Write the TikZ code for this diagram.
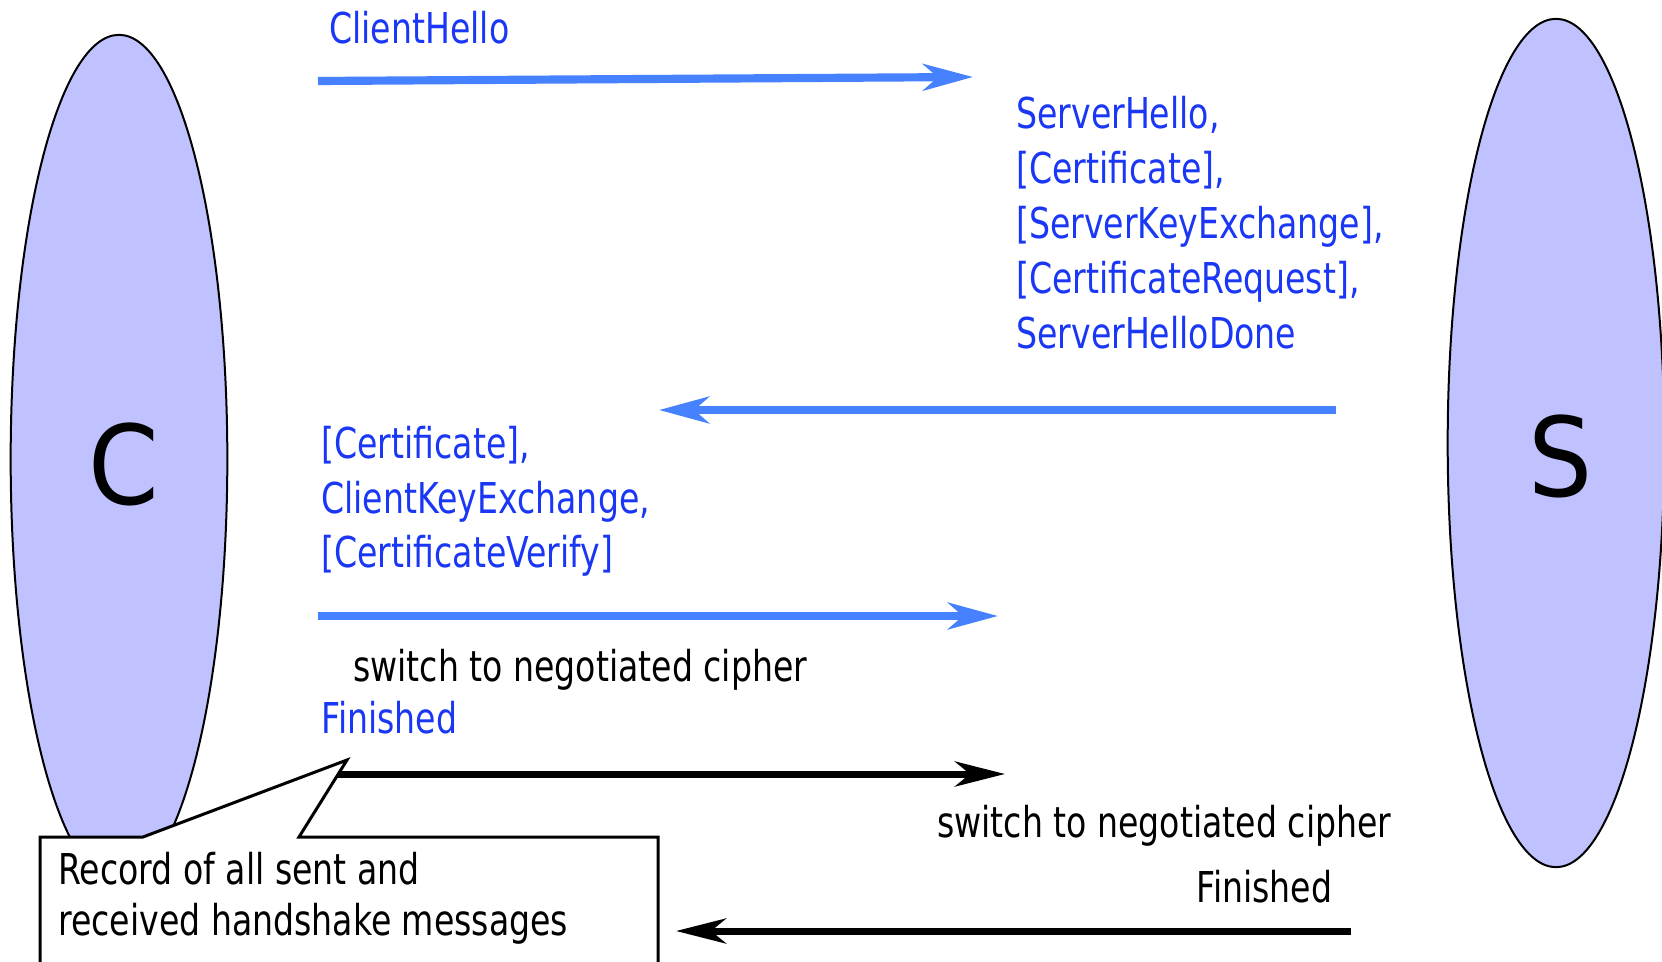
\documentclass[tikz,border=0pt]{standalone}
\usepackage{fontspec}
\setmainfont{DejaVu Sans}[FakeStretch=0.78]
\newfontfamily\bigfont{DejaVu Sans}[FakeStretch=0.92]
\usetikzlibrary{shapes.geometric,arrows.meta}
\definecolor{txtblue}{RGB}{25,55,245}
\definecolor{arrblue}{RGB}{70,130,255}
\definecolor{partyfill}{RGB}{192,194,255}
\tikzset{
  party/.style={ellipse, draw=black, line width=1.2pt, fill=partyfill, inner sep=0pt,
    minimum width=130pt, minimum height=509pt},
  partyname/.style={inner sep=0pt, font=\bigfont\fontsize{66}{66}\selectfont},
  lbl/.style={anchor=base west, inner sep=0pt, font=\fontsize{25.5}{25.5}\selectfont},
  bluelbl/.style={lbl, text=txtblue},
  bluemsg/.style={draw=arrblue, line width=4.9pt, -{Stealth[length=30pt,width=16pt,inset=9pt]}},
  blackmsg/.style={draw=black, line width=4.2pt, -{Stealth[length=30pt,width=15pt,inset=9pt]}},
  callout/.style={draw=black, line width=1.8pt, fill=white}
}
\begin{document}
\begin{tikzpicture}[x=0.6pt,y=-0.6pt]
\useasboundingbox (0,0) rectangle (1662,961);
\clip (0,0) rectangle (1662,961);
\fill[white] (0,0) rectangle (1662,961);

% parties
\node[party] (C) at (119,459) {};
\node[partyname] (Cname) at (124,464) {C};
\node[party] (S) at (1556,443) {};
\node[partyname] (Sname) at (1561,456) {S};

% message 1
\node[bluelbl] (m1) at (329,44) {ClientHello};
\coordinate (a1s) at (318,81);
\coordinate (a1e) at (973,77);
\draw[bluemsg] (a1s) -- (a1e);

% message 2
\node[bluelbl] (m2a) at (1016,129) {ServerHello,};
\node[bluelbl] (m2b) at (1016,184) {[Certificate],};
\node[bluelbl] (m2c) at (1016,238) {[ServerKeyExchange],};
\node[bluelbl] (m2d) at (1016,293) {[CertificateRequest],};
\node[bluelbl] (m2e) at (1016,348) {ServerHelloDone};
\coordinate (a2s) at (1336,410);
\coordinate (a2e) at (659,410);
\draw[bluemsg] (a2s) -- (a2e);

% message 3
\node[bluelbl] (m3a) at (321,458) {[Certificate],};
\node[bluelbl] (m3b) at (321,513) {ClientKeyExchange,};
\node[bluelbl] (m3c) at (321,567) {[CertificateVerify]};
\coordinate (a3s) at (318,616);
\coordinate (a3e) at (998,616);
\draw[bluemsg] (a3s) -- (a3e);

% message 4
\node[lbl] (sw1) at (353,681) {switch to negotiated cipher};
\node[bluelbl] (f1) at (321,733) {Finished};
\coordinate (a4s) at (330,774);
\coordinate (a4e) at (1005,774);
\draw[blackmsg] (a4s) -- (a4e);

% message 5
\node[lbl] (sw2) at (937,837) {switch to negotiated cipher};
\node[lbl] (f2) at (1196,902) {Finished};
\coordinate (a5s) at (1351,931);
\coordinate (a5e) at (676,931);
\draw[blackmsg] (a5s) -- (a5e);

% callout
\draw[callout] (40,837) -- (143,837) -- (347,760) -- (299,837) -- (658,837)
  -- (658,990) -- (40,990) -- cycle;
\node[lbl] (r1) at (58,884) {Record of all sent and};
\node[lbl] (r2) at (58,935) {received handshake messages};
\end{tikzpicture}
\end{document}
